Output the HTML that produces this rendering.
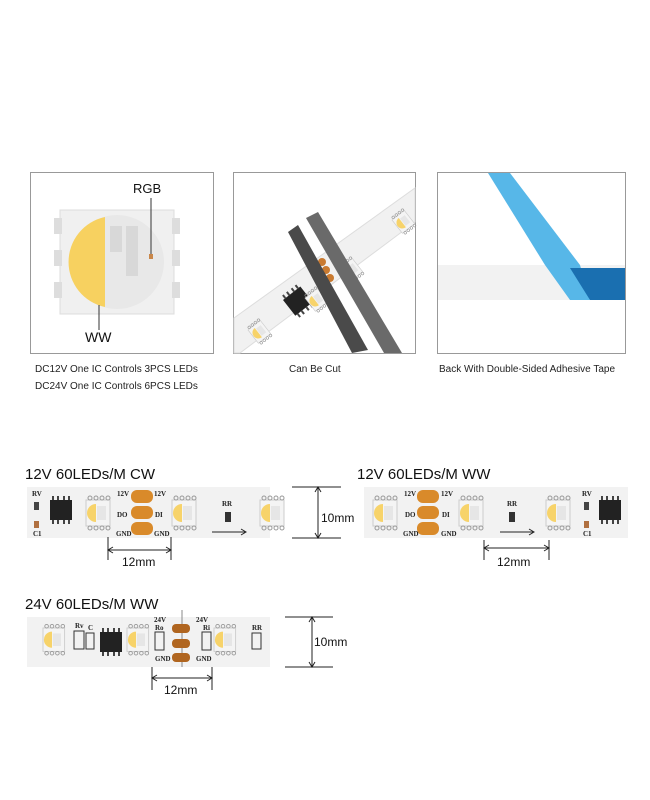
<!DOCTYPE html>
<html><head><meta charset="utf-8"><style>
body{margin:0;width:650px;height:800px;background:#fff;position:relative;overflow:hidden;font-family:"Liberation Sans",sans-serif;}
.a{position:absolute}
</style></head><body>
<svg class="a" style="left:0;top:0" width="650" height="800" viewBox="0 0 650 800" font-family="Liberation Sans, sans-serif">
<defs>
<g id="led">
 <rect x="0" y="0" width="24" height="26" fill="#f4f4f4" stroke="#ccc"/>
 <path d="M10 4 A9 9 0 0 0 10 22 Z" fill="#f7d36a"/>
 <rect x="11" y="6" width="9" height="14" fill="#e6e6e6"/>
 <g fill="none" stroke="#999"><circle cx="4" cy="-2" r="2"/><circle cx="10" cy="-2" r="2"/><circle cx="16" cy="-2" r="2"/><circle cx="22" cy="-2" r="2"/>
 <circle cx="4" cy="28" r="2"/><circle cx="10" cy="28" r="2"/><circle cx="16" cy="28" r="2"/><circle cx="22" cy="28" r="2"/></g>
</g>
<g id="ic"><rect x="0" y="0" width="22" height="20" fill="#222"/><g stroke="#444" stroke-width="2"><line x1="3" y1="-4" x2="3" y2="0"/><line x1="8" y1="-4" x2="8" y2="0"/><line x1="14" y1="-4" x2="14" y2="0"/><line x1="19" y1="-4" x2="19" y2="0"/><line x1="3" y1="20" x2="3" y2="24"/><line x1="8" y1="20" x2="8" y2="24"/><line x1="14" y1="20" x2="14" y2="24"/><line x1="19" y1="20" x2="19" y2="24"/></g></g>
<g id="pads"><rect x="0" y="0" width="22" height="13" rx="6" fill="#d98a2a"/><rect x="0" y="16" width="22" height="13" rx="6" fill="#d98a2a"/><rect x="0" y="32" width="22" height="13" rx="6" fill="#d98a2a"/></g>
</defs>

<!-- Panel 1 -->
<rect x="30.5" y="172.5" width="183" height="181" fill="#fff" stroke="#999"/>
<rect x="60" y="210" width="114" height="104" fill="#f0f0f0" stroke="#ddd"/>
<rect x="54" y="218" width="8" height="16" fill="#ddd"/><rect x="54" y="250" width="8" height="16" fill="#ddd"/><rect x="54" y="282" width="8" height="16" fill="#ddd"/>
<rect x="172" y="218" width="8" height="16" fill="#ddd"/><rect x="172" y="250" width="8" height="16" fill="#ddd"/><rect x="172" y="282" width="8" height="16" fill="#ddd"/>
<circle cx="117" cy="262" r="47" fill="#e8e8e8"/>
<path d="M105 217 A46 46 0 0 0 105 307 Z" fill="#f7d160"/>
<rect x="110" y="226" width="12" height="26" fill="#d8d8d8"/><rect x="126" y="226" width="12" height="50" fill="#d8d8d8"/>
<rect x="149" y="254" width="4" height="5" fill="#c9874a"/>
<line x1="151" y1="198" x2="151" y2="254" stroke="#333"/>
<line x1="99" y1="305" x2="99" y2="330" stroke="#333"/>
<text x="133" y="193" font-size="13" fill="#111">RGB</text>
<text x="85" y="342" font-size="14" fill="#111">WW</text>
<text x="35" y="372" font-size="10" fill="#222">DC12V One IC Controls 3PCS LEDs</text>
<text x="35" y="389" font-size="10" fill="#222">DC24V One IC Controls 6PCS LEDs</text>

<!-- Panel 2 -->
<rect x="233.5" y="172.5" width="182" height="181" fill="#fff" stroke="#999"/>
<polygon points="234,318 415,188 415,222 240,353 234,353" fill="#f1f1f1" stroke="#ddd"/>
<use href="#ic" transform="translate(283,300) rotate(-38)"/>
<use href="#led" transform="translate(248,330) rotate(-38) scale(.65)"/>
<use href="#led" transform="translate(305,298) rotate(-38) scale(.65)"/>
<use href="#led" transform="translate(340,268) rotate(-38) scale(.65)"/>
<use href="#led" transform="translate(392,220) rotate(-38) scale(.65)"/>
<g fill="#c97a30"><circle cx="322" cy="262" r="4"/><circle cx="326" cy="270" r="4"/><circle cx="330" cy="278" r="4"/></g>
<polygon points="288,232 298,225 368,350 352,353" fill="#4a4a4a"/>
<polygon points="306,218 318,212 402,353 384,353" fill="#6a6a6a"/>
<text x="289" y="372" font-size="10" fill="#222">Can Be Cut</text>

<!-- Panel 3 -->
<rect x="437.5" y="172.5" width="188" height="181" fill="#fff" stroke="#999"/>
<rect x="438" y="265" width="187" height="35" fill="#f2f2f2"/>
<polygon points="488,173 510,173 580,265 590,300 570,300 545,265" fill="#57b7e8"/>
<polygon points="570,268 625,268 625,300 590,300" fill="#1a6fb0"/>
<text x="439" y="372" font-size="10" fill="#222">Back With Double-Sided Adhesive Tape</text>

<!-- Strip 1 -->
<text x="25" y="479" font-size="15" fill="#111">12V 60LEDs/M CW</text>
<rect x="27" y="487" width="243" height="51" fill="#f2f2f2"/>
<use href="#ic" transform="translate(50,500)"/>
<use href="#led" transform="translate(86,500)"/>
<use href="#pads" transform="translate(131,490)"/>
<use href="#led" transform="translate(172,500)"/>
<use href="#led" transform="translate(260,500)"/>
<rect x="34" y="502" width="5" height="8" fill="#444"/><rect x="34" y="521" width="5" height="7" fill="#b07040"/>
<rect x="225" y="512" width="6" height="10" fill="#333"/>
<g font-size="7" font-family="Liberation Serif,serif" font-weight="bold" fill="#222"><text x="32" y="496">RV</text><text x="33" y="536">C1</text><text x="117" y="496">12V</text><text x="154" y="496">12V</text><text x="117" y="517">DO</text><text x="155" y="517">DI</text><text x="116" y="536">GND</text><text x="154" y="536">GND</text><text x="222" y="506">RR</text></g>
<line x1="212" y1="532" x2="245" y2="532" stroke="#222"/><path d="M241 529 L246 532 L241 535" fill="none" stroke="#222"/>
<g stroke="#222"><line x1="292" y1="487" x2="341" y2="487"/><line x1="292" y1="538" x2="341" y2="538"/><line x1="318" y1="488" x2="318" y2="537"/>
<line x1="108" y1="537" x2="108" y2="560"/><line x1="171" y1="537" x2="171" y2="560"/><line x1="109" y1="550" x2="170" y2="550"/></g>
<path d="M315 492 L318 487 L321 492 M315 533 L318 538 L321 533 M113 547 L108 550 L113 553 M166 547 L171 550 L166 553" fill="none" stroke="#222"/>
<text x="321" y="522" font-size="12" fill="#111">10mm</text>
<text x="122" y="566" font-size="12" fill="#111">12mm</text>

<!-- Strip 2 -->
<text x="357" y="479" font-size="15" fill="#111">12V 60LEDs/M WW</text>
<rect x="364" y="487" width="264" height="51" fill="#f2f2f2"/>
<use href="#led" transform="translate(373,500)"/>
<use href="#pads" transform="translate(417,490)"/>
<use href="#led" transform="translate(459,500)"/>
<use href="#led" transform="translate(546,500)"/>
<use href="#ic" transform="translate(599,500)"/>
<rect x="584" y="502" width="5" height="8" fill="#444"/><rect x="584" y="521" width="5" height="7" fill="#b07040"/>
<rect x="509" y="512" width="6" height="10" fill="#333"/>
<g font-size="7" font-family="Liberation Serif,serif" font-weight="bold" fill="#222"><text x="404" y="496">12V</text><text x="441" y="496">12V</text><text x="405" y="517">DO</text><text x="442" y="517">DI</text><text x="403" y="536">GND</text><text x="441" y="536">GND</text><text x="507" y="506">RR</text><text x="582" y="496">RV</text><text x="583" y="536">C1</text></g>
<line x1="500" y1="532" x2="533" y2="532" stroke="#222"/><path d="M529 529 L534 532 L529 535" fill="none" stroke="#222"/>
<g stroke="#222"><line x1="484" y1="540" x2="484" y2="560"/><line x1="549" y1="540" x2="549" y2="560"/><line x1="485" y1="548" x2="548" y2="548"/></g>
<path d="M489 545 L484 548 L489 551 M544 545 L549 548 L544 551" fill="none" stroke="#222"/>
<text x="497" y="566" font-size="12" fill="#111">12mm</text>

<!-- Strip 3 -->
<text x="25" y="609" font-size="15" fill="#111">24V 60LEDs/M WW</text>
<rect x="27" y="617" width="243" height="50" fill="#f2f2f2"/>
<line x1="182" y1="610" x2="182" y2="667" stroke="#888"/>
<use href="#led" transform="translate(43,628) scale(.9)"/>
<use href="#ic" transform="translate(100,632)"/>
<use href="#led" transform="translate(127,628) scale(.9)"/>
<use href="#led" transform="translate(214,628) scale(.9)"/>
<g fill="#b0651f"><rect x="172" y="624" width="18" height="9" rx="4"/><rect x="172" y="639" width="18" height="9" rx="4"/><rect x="172" y="653" width="18" height="9" rx="4"/></g>
<g fill="none" stroke="#333"><rect x="74" y="631" width="10" height="18"/><rect x="86" y="633" width="8" height="16"/><rect x="155" y="632" width="9" height="18"/><rect x="202" y="632" width="9" height="18"/><rect x="252" y="633" width="9" height="16"/></g>
<g font-size="7" font-family="Liberation Serif,serif" font-weight="bold" fill="#222"><text x="75" y="628">Rv</text><text x="88" y="630">C</text><text x="154" y="622">24V</text><text x="155" y="630">Ro</text><text x="155" y="661">GND</text><text x="196" y="622">24V</text><text x="203" y="630">Ri</text><text x="196" y="661">GND</text><text x="252" y="630">RR</text></g>
<g stroke="#222"><line x1="285" y1="617" x2="333" y2="617"/><line x1="285" y1="667" x2="333" y2="667"/><line x1="312" y1="618" x2="312" y2="666"/>
<line x1="152" y1="667" x2="152" y2="690"/><line x1="212" y1="667" x2="212" y2="690"/><line x1="153" y1="678" x2="211" y2="678"/></g>
<path d="M309 622 L312 617 L315 622 M309 662 L312 667 L315 662 M157 675 L152 678 L157 681 M207 675 L212 678 L207 681" fill="none" stroke="#222"/>
<text x="314" y="646" font-size="12" fill="#111">10mm</text>
<text x="164" y="694" font-size="12" fill="#111">12mm</text>
</svg>
</body></html>
